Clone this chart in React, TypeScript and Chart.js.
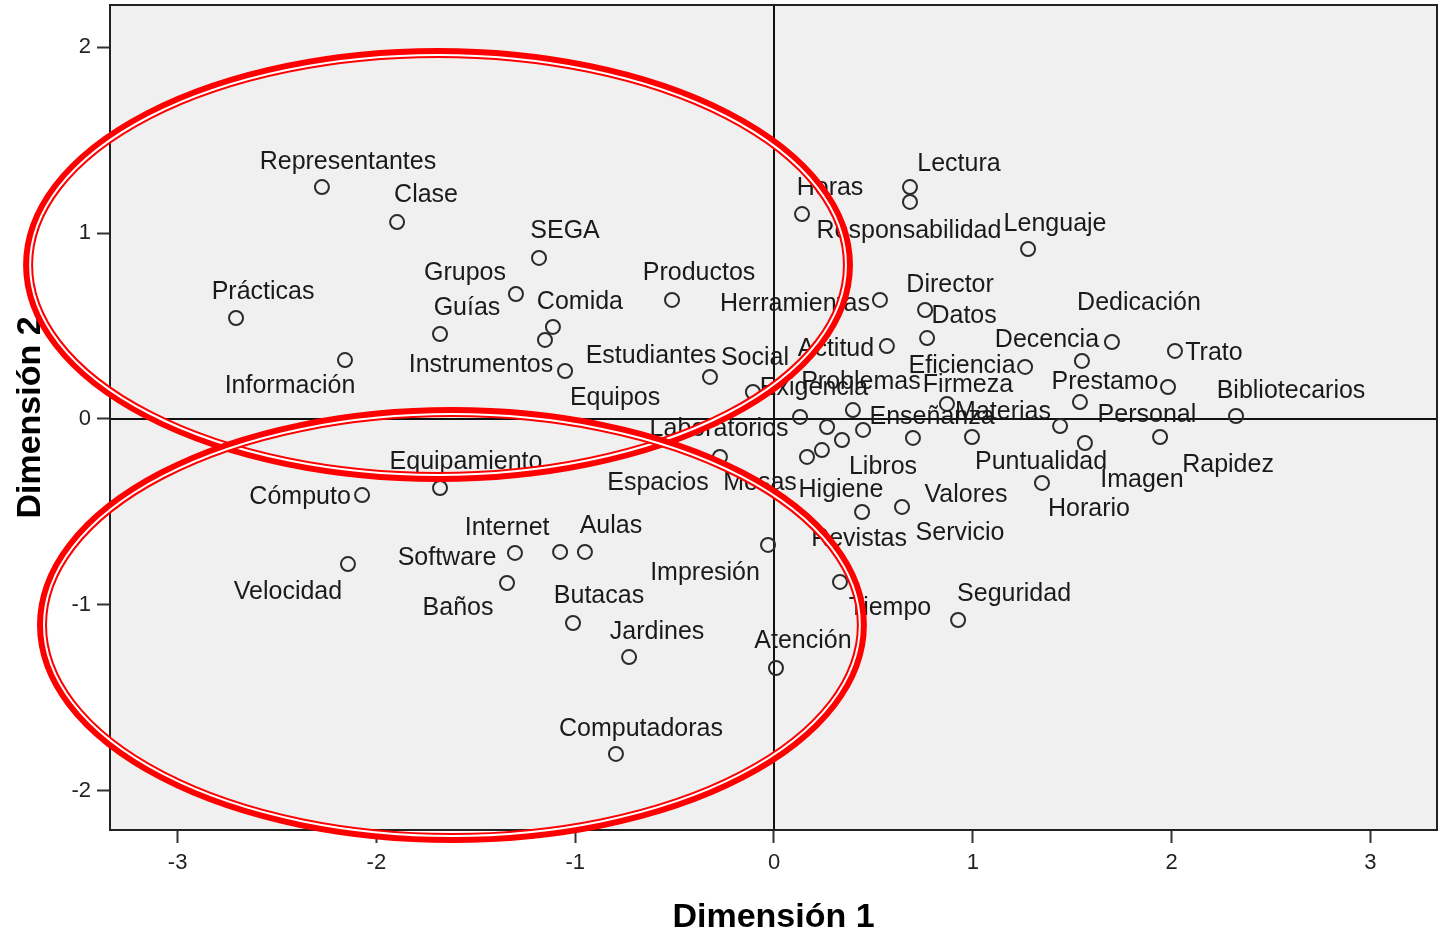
import React, { useEffect, useRef } from "react";
import { Chart, registerables } from "chart.js";

Chart.register(...registerables);

// ---- data ----
const pointLabels: string[] = [
  "Representantes", "Clase", "Prácticas", "Información", "Guías", "Grupos", "SEGA",
  "Comida", "Instrumentos", "Equipos", "Estudiantes", "Social", "Productos", "Exigencia",
  "Horas", "Lectura", "Responsabilidad", "Lenguaje", "Herramientas", "Director", "Datos",
  "Actitud", "Dedicación", "Decencia", "Trato", "Eficiencia", "Prestamo", "Personal",
  "Bibliotecarios", "Materias", "Problemas", "Firmeza", "Enseñanza",
  "Laboratorios", "Espacios", "Mesas", "Higiene", "Libros", "Valores", "Revistas",
  "Servicio", "Puntualidad", "Imagen", "Rapidez", "Horario", "Tiempo", "Seguridad",
  "Impresión", "Atención",
  "Equipamiento", "Cómputo", "Velocidad", "Software", "Internet", "Aulas", "Baños",
  "Butacas", "Jardines", "Computadoras",
];

const dimension1: number[] = [
  -2.274, -1.896, -2.706, -2.158, -1.680, -1.298, -1.182,
  -1.112, -1.152, -1.051, -0.322, -0.106, -0.513, 0.131,
  0.141, 0.684, 0.684, 1.278, 0.533, 0.760, 0.770,
  0.568, 1.700, 1.549, 2.017, 1.263, 1.982, 1.539,
  2.324, 0.996, 0.397, 0.870, 0.448,
  0.267, -0.272, 0.166, 0.241, 0.342, 0.699, 0.443,
  0.644, 1.439, 1.564, 1.942, 1.348, 0.332, 0.926,
  -0.030, 0.010,
  -1.680, -2.072, -2.143, -1.303, -1.076, -0.951, -1.343,
  -1.011, -0.729, -0.795,
];

const dimension2: number[] = [
  1.247, 1.059, 0.543, 0.317, 0.457, 0.672, 0.866,
  0.495, 0.425, 0.258, 0.226, 0.145, 0.640, 0.011,
  1.102, 1.247, 1.167, 0.914, 0.640, 0.586, 0.435,
  0.392, 0.414, 0.312, 0.366, 0.280, 0.172, 0.091,
  0.016, -0.097, 0.048, 0.081, -0.059,
  -0.043, -0.204, -0.204, -0.167, -0.113, -0.102, -0.500,
  -0.473, -0.038, -0.129, -0.097, -0.344, -0.876, -1.081,
  -0.677, -1.339,
  -0.371, -0.409, -0.780, -0.720, -0.715, -0.715, -0.882,
  -1.097, -1.280, -1.801,
];

const xTickValues: number[] = [-3, -2, -1, 0, 1, 2, 3];
const yTickValues: number[] = [-2, -1, 0, 1, 2];
const xAxisRange: number[] = [-3.34, 3.335];
const yAxisRange: number[] = [-2.21, 2.226];

const xTitle = "Dimensión 1";
const yTitle = "Dimensión 2";

// ---- label placement (pixel offsets of label centre from its point) ----
const labelOffsets: number[][] = [
  [26, -27], [29, -29], [27, -28], [-55, 24], [27, -28], [-51, -23], [26, -29],
  [27, -27], [-64, 23], [50, 25], [-59, -23], [2, -36], [27, -29], [14, -31],
  [28, -28], [49, -25], [-1, 27], [27, -27], [-85, 2], [25, -27], [37, -24],
  [-51, 1], [27, -41], [-35, -23], [39, 0], [-63, -3], [-63, -7], [67, 11],
  [55, -27], [31, -27], [8, -30], [21, -21], [69, -15],
  [-108, 0], [-62, 24], [-47, 24], [19, 38], [41, 25], [53, 55], [-3, 25],
  [58, 24], [-19, 34], [57, 35], [68, 26], [47, 24], [50, 24], [56, -28],
  [-63, 26], [27, -29],
  [26, -28], [-62, 0], [-60, 26], [-68, 3], [-53, -26], [26, -28], [-49, 23],
  [26, -29], [28, -27], [25, -27],
];

// ---- red ellipse annotations (data units) ----
const ellipseCentreX: number[] = [-1.69, -1.62];
const ellipseCentreY: number[] = [0.828, -1.108];
const ellipseRadiusX: number[] = [2.062, 2.062];
const ellipseRadiusY: number[] = [1.14, 1.145];

const FONT = "'Liberation Sans', Arial, Helvetica, sans-serif";

const decorPlugin = {
  id: "decor",
  beforeDraw(chart: any) {
    const { ctx, chartArea: a } = chart;
    ctx.save();
    ctx.fillStyle = "#ffffff";
    ctx.fillRect(0, 0, chart.width, chart.height);
    ctx.fillStyle = "#f0f0f0";
    ctx.fillRect(a.left, a.top, a.right - a.left, a.bottom - a.top);
    ctx.restore();
  },
  beforeDatasetsDraw(chart: any) {
    const { ctx, chartArea: a, scales } = chart;
    const x0 = scales.x.getPixelForValue(0);
    const y0 = scales.y.getPixelForValue(0);
    ctx.save();
    ctx.strokeStyle = "#111111";
    ctx.lineWidth = 2;
    ctx.beginPath();
    ctx.moveTo(x0, a.top);
    ctx.lineTo(x0, a.bottom);
    ctx.moveTo(a.left, y0);
    ctx.lineTo(a.right, y0);
    ctx.stroke();
    ctx.restore();
  },
  afterDatasetsDraw(chart: any) {
    const { ctx, chartArea: a } = chart;
    const meta = chart.getDatasetMeta(0);
    ctx.save();
    ctx.font = `25px ${FONT}`;
    ctx.fillStyle = "#1a1a1a";
    ctx.textAlign = "center";
    ctx.textBaseline = "middle";
    meta.data.forEach((el: any, i: number) => {
      const off = labelOffsets[i] || [0, -27];
      ctx.fillText(pointLabels[i], el.x + off[0], el.y + off[1] + 2);
    });
    ctx.strokeStyle = "#222222";
    ctx.lineWidth = 2;
    ctx.strokeRect(a.left, a.top, a.right - a.left, a.bottom - a.top);
    ctx.restore();
  },
  afterDraw(chart: any) {
    const { ctx, scales } = chart;
    const sx = scales.x;
    const sy = scales.y;
    ctx.save();
    for (let i = 0; i < ellipseCentreX.length; i++) {
      const cx = sx.getPixelForValue(ellipseCentreX[i]);
      const cy = sy.getPixelForValue(ellipseCentreY[i]);
      const rx = Math.abs(sx.getPixelForValue(ellipseCentreX[i] + ellipseRadiusX[i]) - cx);
      const ry = Math.abs(sy.getPixelForValue(ellipseCentreY[i] + ellipseRadiusY[i]) - cy);
      ctx.strokeStyle = "#ff0000";
      ctx.lineWidth = 10;
      ctx.beginPath();
      ctx.ellipse(cx, cy, rx, ry, 0, 0, Math.PI * 2);
      ctx.stroke();
      ctx.strokeStyle = "#ffffff";
      ctx.lineWidth = 2;
      ctx.beginPath();
      ctx.ellipse(cx, cy, rx - 2, ry - 2, 0, 0, Math.PI * 2);
      ctx.stroke();
    }
    ctx.restore();
  },
};

export default function App() {
  const canvasRef = useRef<HTMLCanvasElement | null>(null);

  useEffect(() => {
    const canvas = canvasRef.current;
    if (!canvas) return;
    const points = dimension1.map((v, i) => ({ x: v, y: dimension2[i] }));
    const chart = new Chart(canvas, {
      type: "scatter",
      data: {
        datasets: [
          {
            label: "Puntos",
            data: points,
            pointStyle: "circle",
            pointRadius: 7,
            pointBorderWidth: 2,
            borderColor: "#2a2a2a",
            backgroundColor: "rgba(0,0,0,0)",
          },
        ],
      },
      options: {
        responsive: false,
        animation: false,
        devicePixelRatio: 1,
        layout: { autoPadding: false, padding: { top: 5, right: 2, left: 0, bottom: 0 } },
        plugins: {
          legend: { display: false },
          tooltip: { enabled: false },
        },
        scales: {
          x: {
            type: "linear",
            min: xAxisRange[0],
            max: xAxisRange[1],
            afterBuildTicks: (scale: any) => {
              scale.ticks = xTickValues.map((v) => ({ value: v }));
            },
            afterFit: (scale: any) => {
              scale.height = 106;
              scale.paddingLeft = 0;
              scale.paddingRight = 0;
              scale.paddingTop = 0;
              scale.paddingBottom = 0;
            },
            border: { display: false },
            grid: {
              drawOnChartArea: false,
              drawTicks: true,
              tickLength: 13,
              tickWidth: 2,
              tickColor: "#333333",
            },
            ticks: {
              font: { size: 22, family: FONT },
              color: "#222222",
              padding: 7,
              maxRotation: 0,
              callback: (v: any) => String(v),
            },
            title: {
              display: true,
              text: xTitle,
              color: "#000000",
              font: { size: 34, weight: "bold", family: FONT, lineHeight: 1.1 },
              padding: { top: 0, bottom: 0 },
            },
          },
          y: {
            type: "linear",
            min: yAxisRange[0],
            max: yAxisRange[1],
            afterBuildTicks: (scale: any) => {
              scale.ticks = yTickValues.map((v) => ({ value: v }));
            },
            afterFit: (scale: any) => {
              scale.width = 110;
              scale.paddingLeft = 0;
              scale.paddingRight = 0;
              scale.paddingTop = 0;
              scale.paddingBottom = 0;
            },
            border: { display: false },
            grid: {
              drawOnChartArea: false,
              drawTicks: true,
              tickLength: 13,
              tickWidth: 2,
              tickColor: "#333333",
            },
            ticks: {
              font: { size: 22, family: FONT },
              color: "#222222",
              padding: 6,
              callback: (v: any) => String(v),
            },
            title: {
              display: true,
              text: yTitle,
              color: "#000000",
              font: { size: 34, weight: "bold", family: FONT, lineHeight: 1.1 },
              padding: { top: 12, bottom: 0 },
            },
          },
        },
      },
      plugins: [decorPlugin],
    } as any);
    return () => chart.destroy();
  }, []);

  return (
    <div style={{ position: "fixed", left: 0, top: 0, width: 1439, height: 936, background: "#ffffff" }}>
      <canvas ref={canvasRef} width={1439} height={936} style={{ display: "block", width: 1439, height: 936 }} />
    </div>
  );
}
